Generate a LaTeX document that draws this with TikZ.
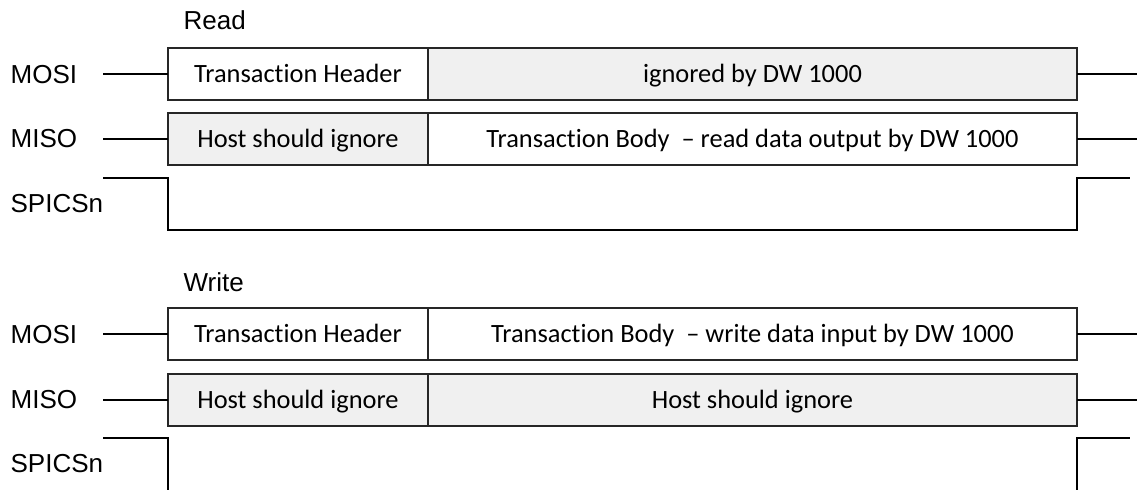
\documentclass[tikz,border=0pt]{standalone}
\usepackage{fontspec}
\setmainfont{Carlito}[Ligatures=NoCommon]
\newfontfamily\arialfont{Liberation Sans}
\usetikzlibrary{positioning}

\begin{document}
\begin{tikzpicture}[x=0.5pt,y=-0.5pt,line width=0.65pt,
		font=\fontsize{13.2pt}{15pt}\selectfont,
		field/.style={draw=black!85,rectangle,inner sep=0pt,outer sep=0pt,minimum height=26pt,
			text height=8.4pt,text depth=0pt},
		head/.style={field,minimum width=130pt},
		body/.style={field,minimum width=324.5pt},
		grey/.style={fill=black!6},
		sig/.style={font=\arialfont\fontsize{13pt}{15pt}\selectfont,anchor=west,inner sep=0pt},
		cs/.style={line width=1.4pt}]
		\useasboundingbox (0,0) rectangle (1137,489);
		% Read
		\node[sig] (rTitle) at (183,20) {Read};
		\node[sig] (rMosi) at (10,75) {MOSI};
		\node[sig] (rMiso) at (10,139) {MISO};
		\node[sig] (rCs) at (10,204) {SPICSn};
		\node[head, anchor=north west] (rHead) at (168,48) {Transaction Header};
		\node[body, grey] (rIgn) [right=0pt of rHead] {ignored by DW 1000};
		\node[head, grey, anchor=north west] (rHost) at (168,113) {Host should ignore};
		\node[body] (rBody) [right=0pt of rHost] {Transaction Body \ -- read data output by DW 1000};
		\coordinate (rMosiIn) at (103,74);
		\coordinate (rMosiOut) at (1137,74);
		\coordinate (rMisoIn) at (103,139);
		\coordinate (rMisoOut) at (1137,139);
		\coordinate (rCsA) at (103,178);
		\coordinate (rCsL) at (168,230);
		\coordinate (rCsR) at (1077,230);
		\coordinate (rCsB) at (1130,178);
		\draw (rMosiIn) -- (rHead.west);
		\draw (rIgn.east) -- (rMosiOut);
		\draw (rMisoIn) -- (rHost.west);
		\draw (rBody.east) -- (rMisoOut);
		\draw[cs] (rCsA) -| (rCsL) -- (rCsR) |- (rCsB);
		% Write
		\node[sig] (wTitle) at (183,282) {Write};
		\node[sig] (wMosi) at (10,335) {MOSI};
		\node[sig] (wMiso) at (10,400) {MISO};
		\node[sig] (wCs) at (10,464) {SPICSn};
		\node[head, anchor=north west] (wHead) at (168,308) {Transaction Header};
		\node[body] (wBody) [right=0pt of wHead] {Transaction Body \ -- write data input by DW 1000};
		\node[head, grey, anchor=north west] (wHost) at (168,374) {Host should ignore};
		\node[body, grey] (wHost2) [right=0pt of wHost] {Host should ignore};
		\coordinate (wMosiIn) at (103,334);
		\coordinate (wMosiOut) at (1137,334);
		\coordinate (wMisoIn) at (103,400);
		\coordinate (wMisoOut) at (1137,400);
		\coordinate (wCsA) at (103,438);
		\coordinate (wCsL) at (168,490);
		\coordinate (wCsR) at (1077,490);
		\coordinate (wCsB) at (1130,438);
		\draw (wMosiIn) -- (wHead.west);
		\draw (wBody.east) -- (wMosiOut);
		\draw (wMisoIn) -- (wHost.west);
		\draw (wHost2.east) -- (wMisoOut);
		\draw[cs] (wCsA) -| (wCsL);
		\draw[cs] (wCsR) |- (wCsB);
\end{tikzpicture}
\end{document}
